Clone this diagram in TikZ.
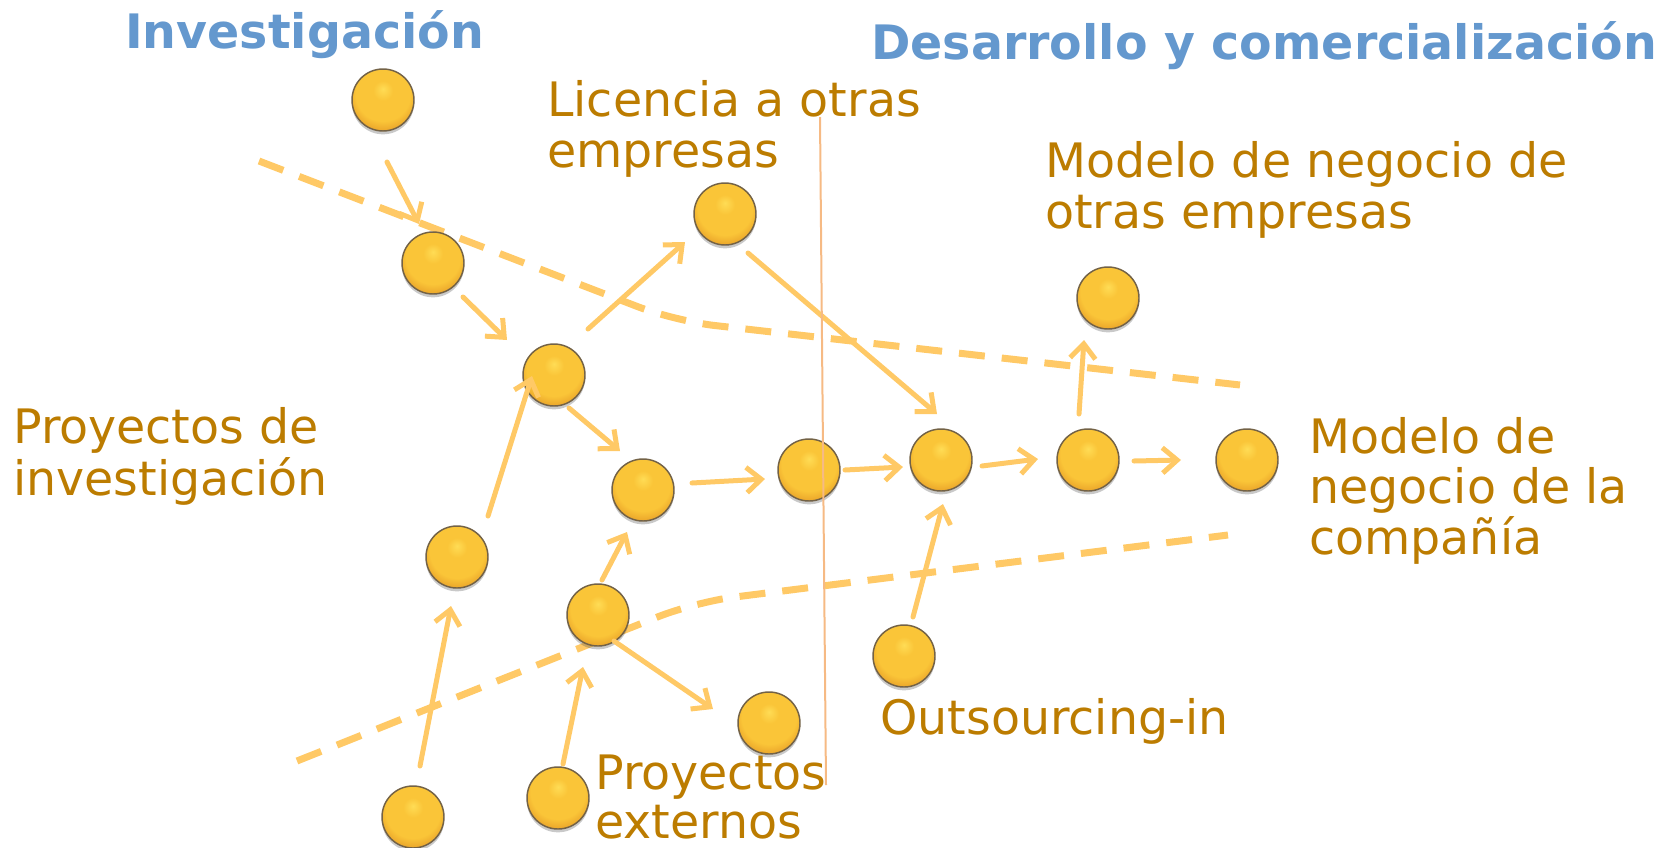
\documentclass[tikz,border=0pt]{standalone}
\usepackage{fontspec}
\setmainfont{DejaVu Sans}
\usetikzlibrary{arrows.meta,shadows}
\definecolor{txtgold}{RGB}{188,124,0}
\definecolor{ttlblue}{RGB}{100,152,206}
\definecolor{arrcol}{RGB}{255,201,102}
\definecolor{vline}{RGB}{246,186,132}
\definecolor{ballhi}{RGB}{255,220,85}
\definecolor{ballmid}{RGB}{250,197,56}
\definecolor{ballrim}{RGB}{232,160,40}
\definecolor{ballline}{RGB}{115,98,70}
\pgfdeclareradialshading{goldball}{\pgfpoint{0bp}{9bp}}{color(0bp)=(ballhi); color(8bp)=(ballmid); color(22bp)=(ballmid); color(30bp)=(ballrim); color(50bp)=(ballrim)}
\tikzset{
  ball/.style={circle, minimum size=46.5pt, inner sep=0pt, draw=ballline, line width=1.1pt,
    shading=goldball, drop shadow={shadow xshift=0pt, shadow yshift=-2.5pt, opacity=0.3, fill=black!70}},
  arr/.style={draw=arrcol, line width=3.75pt, line cap=round,
    -{Straight Barb[length=11pt,width=19pt]}},
  bound/.style={draw=arrcol, line width=5.25pt, dash pattern=on 19.5pt off 12.75pt, rounded corners=30pt},
  lbl/.style={anchor=base west, inner sep=0pt, text=txtgold, font=\fontsize{35.6}{38}\selectfont},
  ttl/.style={anchor=base west, inner sep=0pt, text=ttlblue, font=\fontsize{35.6}{38}\selectfont\bfseries},
  divider/.style={draw=vline, line width=1.5pt}
}
\begin{document}
\begin{tikzpicture}[x=0.75pt,y=-0.75pt]
\useasboundingbox (0,0) rectangle (1675,847);
% boundaries of the funnel
\coordinate (u1) at (259,161);
\coordinate (u2) at (675,321);
\coordinate (u3) at (1240,385);
\coordinate (l1) at (297,761);
\coordinate (l2) at (695,602);
\coordinate (l3) at (1228,535);
\draw[bound] (u1) -- (u2) -- (u3);
\draw[bound] (l1) -- (l2) -- (l3);
% balls
\node[ball] (b1) at (383,100) {};
\node[ball] (b2) at (433,263) {};
\node[ball] (b3) at (554,375) {};
\node[ball] (b4) at (643,490) {};
\node[ball] (b5) at (457,557) {};
\node[ball] (b6) at (598,615) {};
\node[ball] (b7) at (769,723) {};
\node[ball] (b8) at (413,817) {};
\node[ball] (b9) at (558,798) {};
\node[ball] (b10) at (725,214) {};
\node[ball] (b11) at (809,470) {};
\node[ball] (b12) at (941,460) {};
\node[ball] (b13) at (904,656) {};
\node[ball] (b14) at (1088,460) {};
\node[ball] (b15) at (1108,298) {};
\node[ball] (b16) at (1247,460) {};
% arrows
\draw[arr] ([shift={(4,62)}]b1.center) -- ([shift={(-14,-39)}]b2.center);
\draw[arr] ([shift={(30,34)}]b2.center) -- ([shift={(-47,-35)}]b3.center);
\draw[arr] ([shift={(34,-46)}]b3.center) -- ([shift={(-40,28)}]b10.center);
\draw[arr] ([shift={(15,33)}]b3.center) -- ([shift={(-23,-39)}]b4.center);
\draw[arr] ([shift={(31,-41)}]b5.center) -- ([shift={(-22,1)}]b3.center);
\draw[arr] ([shift={(49,-7)}]b4.center) -- ([shift={(-44,9)}]b11.center);
\draw[arr] ([shift={(36,0)}]b11.center) -- ([shift={(-38,7)}]b12.center);
\draw[arr] ([shift={(23,39)}]b10.center) -- ([shift={(-4,-46)}]b12.center);
\draw[arr] ([shift={(41,6)}]b12.center) -- ([shift={(-50,-1)}]b14.center);
\draw[arr] ([shift={(-9,-46)}]b14.center) -- ([shift={(-24,42)}]b15.center);
\draw[arr] ([shift={(46,1)}]b14.center) -- ([shift={(-66,0)}]b16.center);
\draw[arr] ([shift={(9,-39)}]b13.center) -- ([shift={(2,44)}]b12.center);
\draw[arr] ([shift={(4,-35)}]b6.center) -- ([shift={(-16,42)}]b4.center);
\draw[arr] ([shift={(16,26)}]b6.center) -- ([shift={(-56,-14)}]b7.center);
\draw[arr] ([shift={(7,-51)}]b8.center) -- ([shift={(-6,49)}]b5.center);
\draw[arr] ([shift={(5,-34)}]b9.center) -- ([shift={(-15,52)}]b6.center);
% divider
\coordinate (v1) at (820,117);
\coordinate (v2) at (826,785);
\draw[divider] (v1) -- (v2);
% titles
\node[ttl] (t1) at (125,48) {Investigación};
\node[ttl] (t2) at (871,59) {Desarrollo y comercialización};
% labels
\node[lbl] (lic1) at (547,116) {Licencia a otras};
\node[lbl] (lic2) at (547,167) {empresas};
\node[lbl] (mo1) at (1045,177) {Modelo de negocio de};
\node[lbl] (mo2) at (1045,228) {otras empresas};
\node[lbl] (pi1) at (13,443) {Proyectos de};
\node[lbl] (pi2) at (13,495) {investigación};
\node[lbl] (mc1) at (1309,453) {Modelo de};
\node[lbl] (mc2) at (1309,503) {negocio de la};
\node[lbl] (mc3) at (1309,554) {compañía};
\node[lbl] (out) at (880,734) {Outsourcing-in};
\node[lbl] (pe1) at (595,789) {Proyectos};
\node[lbl] (pe2) at (595,838) {externos};
\end{tikzpicture}
\end{document}
